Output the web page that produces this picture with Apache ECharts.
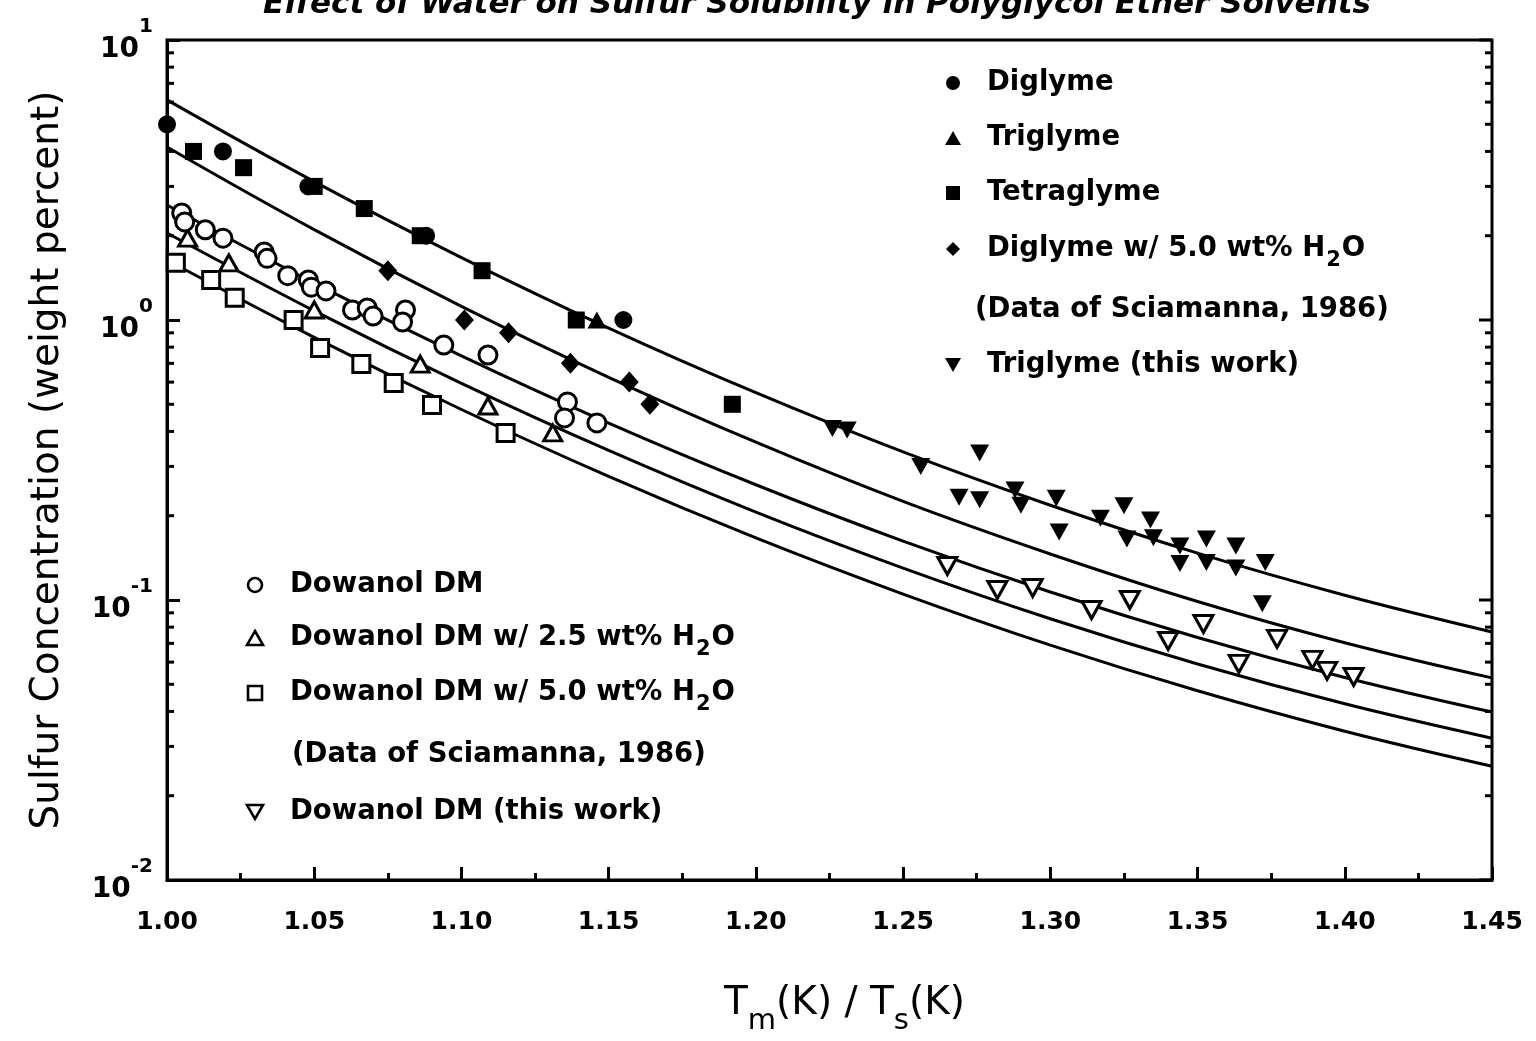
<!DOCTYPE html>
<html>
<head>
<meta charset="utf-8">
<title>Effect of Water on Sulfur Solubility in Polyglycol Ether Solvents</title>
<script src="https://cdn.jsdelivr.net/npm/echarts@6/dist/echarts.min.js"></script>
<style>
  html, body { margin: 0; padding: 0; background: #ffffff; }
  #chart { width: 1536px; height: 1041px; }
</style>
</head>
<body>
<div id="chart"></div>
<script>
// ---- fitted solubility curves, sampled every 0.05 in Tm/Ts ----
const curveX  = [1.00, 1.05, 1.10, 1.15, 1.20, 1.25, 1.30, 1.35, 1.40, 1.45];
const curve1  = [6.11, 3.12, 1.671, 0.936, 0.550, 0.338, 0.218, 0.147, 0.104, 0.0769];
const curve2  = [4.148, 2.102, 1.118, 0.624, 0.366, 0.225, 0.146, 0.0988, 0.0704, 0.0527];
const curve3  = [2.574, 1.354, 0.745, 0.4285, 0.258, 0.1623, 0.1068, 0.0735, 0.0529, 0.0398];
const curve4  = [2.045, 1.078, 0.594, 0.342, 0.206, 0.130, 0.0857, 0.0591, 0.0426, 0.0321];
const curve5  = [1.638, 0.867, 0.479, 0.2763, 0.1666, 0.105, 0.069, 0.0474, 0.034, 0.0255];

// ---- measured points: [Tm/Ts, sulfur wt%] ----
const diglyme = [[1.000, 5.0], [1.019, 4.0], [1.048, 3.0], [1.088, 2.0], [1.155, 1.0]];
const triglyme = [[1.146, 1.0]];
const tetraglyme = [[1.009, 4.0], [1.026, 3.5], [1.050, 3.0], [1.067, 2.5], [1.086, 2.0],
                    [1.107, 1.5], [1.139, 1.0], [1.192, 0.5]];
const diglymeWater = [[1.075, 1.5], [1.101, 1.0], [1.116, 0.9], [1.137, 0.7], [1.157, 0.6], [1.164, 0.5]];
const triglymeThisWork = [
  [1.226, 0.41], [1.231, 0.405], [1.256, 0.30], [1.269, 0.233], [1.276, 0.335], [1.276, 0.228],
  [1.288, 0.247], [1.290, 0.218], [1.302, 0.231], [1.303, 0.175], [1.317, 0.196], [1.325, 0.217],
  [1.326, 0.165], [1.334, 0.193], [1.335, 0.167], [1.344, 0.156], [1.344, 0.135], [1.353, 0.165],
  [1.353, 0.136], [1.363, 0.156], [1.363, 0.130], [1.373, 0.136], [1.372, 0.097]
];
const dowanol = [
  [1.005, 2.41], [1.006, 2.24], [1.013, 2.10], [1.019, 1.96], [1.033, 1.75], [1.034, 1.66],
  [1.041, 1.44], [1.048, 1.39], [1.049, 1.31], [1.054, 1.27], [1.063, 1.086], [1.068, 1.104],
  [1.070, 1.033], [1.081, 1.086], [1.080, 0.984], [1.094, 0.814], [1.109, 0.75], [1.136, 0.51],
  [1.135, 0.447], [1.146, 0.429]
];
const dowanolWater25 = [[1.007, 1.96], [1.021, 1.60], [1.050, 1.086], [1.086, 0.696], [1.109, 0.493], [1.131, 0.395]];
const dowanolWater50 = [[1.003, 1.60], [1.015, 1.39], [1.023, 1.20], [1.043, 1.0], [1.052, 0.794],
                        [1.066, 0.696], [1.077, 0.596], [1.090, 0.497], [1.115, 0.395]];
const dowanolThisWork = [
  [1.265, 0.1323], [1.282, 0.1086], [1.294, 0.1104], [1.314, 0.0921], [1.327, 0.100], [1.340, 0.0714],
  [1.352, 0.0821], [1.364, 0.0591], [1.377, 0.0726], [1.389, 0.0611], [1.394, 0.0558], [1.403, 0.0531]
];

// ---- axes ----
const xMin = 1.00, xMax = 1.45, xStep = 0.05;
const yMin = 0.01, yMax = 10;
const yDecades = [0.01, 0.1, 1, 10];
// intermediate log ticks (2..9 in every decade)
const yMinorTicks = [];
[0.01, 0.1, 1].forEach(function (d) {
  for (let k = 2; k <= 9; k++) yMinorTicks.push(+(d * k).toPrecision(3));
});

// ---- key entries ----
const keyUpper = [
  { text: 'Diglyme', mark: 'circle', solid: true },
  { text: 'Triglyme', mark: 'up', solid: true },
  { text: 'Tetraglyme', mark: 'square', solid: true },
  { text: 'Diglyme w/ 5.0 wt% H2O', mark: 'diamond', solid: true },
  { text: '(Data of Sciamanna, 1986)', mark: null },
  { text: 'Triglyme (this work)', mark: 'down', solid: true }
];
const keyLower = [
  { text: 'Dowanol DM', mark: 'circle', solid: false },
  { text: 'Dowanol DM w/ 2.5 wt% H2O', mark: 'up', solid: false },
  { text: 'Dowanol DM w/ 5.0 wt% H2O', mark: 'square', solid: false },
  { text: '(Data of Sciamanna, 1986)', mark: null },
  { text: 'Dowanol DM (this work)', mark: 'down', solid: false }
];

const FONT = '"DejaVu Sans", "Liberation Sans", sans-serif';
const INK = '#000000';
const KEY_FONT = 'bold 27.5px ' + FONT;
const SUB_FONT = 'bold 21px ' + FONT;

const measureCtx = document.createElement('canvas').getContext('2d');
function textWidth(str, font) {
  measureCtx.font = font;
  return measureCtx.measureText(str).width;
}

function keyMark(kind, solid, cx, cy) {
  const style = solid ? { fill: INK, stroke: INK, lineWidth: 0 }
                      : { fill: '#ffffff', stroke: INK, lineWidth: 2.6 };
  const h = 7;
  let el;
  if (kind === 'circle') el = { type: 'circle', shape: { cx: cx, cy: cy, r: h } };
  else if (kind === 'square') el = { type: 'rect', shape: { x: cx - h, y: cy - h, width: 2 * h, height: 2 * h } };
  else if (kind === 'up') el = { type: 'polygon', shape: { points: [[cx, cy - h], [cx + h + 1, cy + h], [cx - h - 1, cy + h]] } };
  else if (kind === 'down') el = { type: 'polygon', shape: { points: [[cx - h - 1, cy - h], [cx + h + 1, cy - h], [cx, cy + h]] } };
  else el = { type: 'polygon', shape: { points: [[cx, cy - h], [cx + h, cy], [cx, cy + h], [cx - h, cy]] } };
  el.style = style;
  el.silent = true;
  el.z = 10;
  return el;
}

function keyText(str, x, y) {
  const out = [];
  const i = str.indexOf('H2O');
  const base = { fill: INK, verticalAlign: 'middle', align: 'left' };
  if (i < 0) {
    out.push({ type: 'text', x: x, y: y, silent: true, z: 10,
               style: Object.assign({ text: str, font: KEY_FONT }, base) });
    return out;
  }
  const head = str.slice(0, i) + 'H';
  const w1 = textWidth(head, KEY_FONT);
  const w2 = textWidth('2', SUB_FONT);
  out.push({ type: 'text', x: x, y: y, silent: true, z: 10,
             style: Object.assign({ text: head, font: KEY_FONT }, base) });
  out.push({ type: 'text', x: x + w1 + 1, y: y + 12, silent: true, z: 10,
             style: Object.assign({ text: '2', font: SUB_FONT }, base) });
  out.push({ type: 'text', x: x + w1 + w2 + 2, y: y, silent: true, z: 10,
             style: Object.assign({ text: 'O', font: KEY_FONT }, base) });
  return out;
}

function buildKey(rows, markX, textX, noteX, rowY) {
  let els = [];
  rows.forEach(function (r, k) {
    if (r.mark) els.push(keyMark(r.mark, r.solid, markX, rowY[k]));
    els = els.concat(keyText(r.text, r.mark ? textX : noteX, rowY[k]));
  });
  return els;
}

const curves = [curve1, curve2, curve3, curve4, curve5];

const filled = { color: INK, borderWidth: 0, opacity: 1 };
const hollow = { color: '#ffffff', borderColor: INK, borderWidth: 3, opacity: 1 };

function scatter(name, data, symbol, size, style, rotate) {
  return {
    name: name, type: 'scatter', data: data,
    symbol: symbol, symbolSize: size, symbolRotate: rotate || 0,
    itemStyle: style, z: 5, silent: true
  };
}

const series = [];
curves.forEach(function (c, i) {
  series.push({
    name: 'fit ' + (i + 1), type: 'line', smooth: 0.4, symbol: 'none', silent: true,
    data: curveX.map(function (x, j) { return [x, c[j]]; }),
    lineStyle: { color: INK, width: 3 }, z: 3
  });
});

// log ticks: minor ones on the left, minor and major mirrored on the right
function tickSeries(name, values, atX, dir, len) {
  return {
    name: name, type: 'custom', silent: true, z: 4,
    data: values.map(function (v) { return [atX, v]; }),
    renderItem: function (params, api) {
      const p = api.coord([api.value(0), api.value(1)]);
      return {
        type: 'line',
        shape: { x1: p[0], y1: p[1], x2: p[0] + dir * len, y2: p[1] },
        style: { stroke: INK, lineWidth: 3 }
      };
    }
  };
}
series.push(tickSeries('left minor', yMinorTicks, xMin, 1, 7));
series.push(tickSeries('right minor', yMinorTicks, xMax, -1, 7));
series.push(tickSeries('right major', yDecades, xMax, -1, 13));

series.push(
  scatter('Dowanol DM w/ 5.0 wt% H2O', dowanolWater50, 'rect', 17, hollow),
  scatter('Dowanol DM w/ 2.5 wt% H2O', dowanolWater25, 'triangle', [18, 16], hollow),
  scatter('Dowanol DM', dowanol, 'circle', 18, hollow),
  scatter('Dowanol DM (this work)', dowanolThisWork, 'triangle', [19, 17], hollow, 180),
  scatter('Diglyme w/ 5.0 wt% H2O', diglymeWater, 'diamond', [19, 21], filled),
  scatter('Tetraglyme', tetraglyme, 'rect', 17, filled),
  scatter('Diglyme', diglyme, 'circle', 18, filled),
  scatter('Triglyme', triglyme, 'triangle', [19, 17], filled),
  scatter('Triglyme (this work)', triglymeThisWork, 'triangle', [19, 17], filled, 180)
);

const graphics = [{
  type: 'text', x: 817, y: -11, silent: true,
  style: {
    text: 'Effect of Water on Sulfur Solubility in Polyglycol Ether Solvents',
    font: 'italic bold 31px ' + FONT, fill: INK, align: 'center', verticalAlign: 'top'
  }
}].concat(
  buildKey(keyUpper, 953, 987, 975, [83, 138, 193, 249, 310, 365]),
  buildKey(keyLower, 255, 290, 292, [585, 638, 693, 755, 812])
);

const option = {
  animation: false,
  backgroundColor: '#ffffff',
  grid: {
    left: 167, right: 44, top: 40, bottom: 161,
    show: true, borderColor: INK, borderWidth: 3, backgroundColor: 'transparent'
  },
  graphic: graphics,
  xAxis: {
    type: 'value', min: xMin, max: xMax, interval: xStep,
    axisLine: { show: true, lineStyle: { color: INK, width: 3 } },
    axisTick: { show: true, inside: true, length: 13, lineStyle: { color: INK, width: 3 } },
    minorTick: { show: true, splitNumber: 2, length: 7, lineStyle: { color: INK, width: 3 } },
    splitLine: { show: false },
    axisLabel: {
      margin: 30, color: INK, fontFamily: FONT, fontWeight: 'bold', fontSize: 25,
      formatter: function (v) { return v.toFixed(2); }
    },
    name: '{t|T}{s|m}{t|(K) / T}{s|s}{t|(K)}',
    nameLocation: 'middle', nameGap: 96,
    nameTextStyle: {
      padding: [0, 0, 0, 30],
      rich: {
        t: { fontFamily: FONT, fontSize: 39, color: INK, lineHeight: 56 },
        s: { fontFamily: FONT, fontSize: 29, color: INK, lineHeight: 30, padding: [34, 0, 0, 0] }
      }
    }
  },
  yAxis: {
    type: 'log', logBase: 10, min: yMin, max: yMax,
    axisLine: { show: true, lineStyle: { color: INK, width: 3 } },
    axisTick: { show: true, inside: true, length: 13, lineStyle: { color: INK, width: 3 } },
    splitLine: { show: false },
    axisLabel: {
      margin: 14,
      formatter: function (v) {
        const e = Math.round(Math.log10(v));
        return '{b|10}{p|' + (e < 0 ? '-' + (-e) : e) + '}';
      },
      rich: {
        b: { fontFamily: FONT, fontWeight: 'bold', fontSize: 28, color: INK, lineHeight: 30, padding: [20, 0, 0, 0] },
        p: { fontFamily: FONT, fontWeight: 'bold', fontSize: 20, color: INK, lineHeight: 22, padding: [0, 0, 26, 0] }
      }
    },
    name: 'Sulfur Concentration (weight percent)',
    nameLocation: 'middle', nameGap: 100, nameRotate: 90,
    nameTextStyle: { fontFamily: FONT, fontSize: 39, color: INK }
  },
  series: series
};

const chart = echarts.init(document.getElementById('chart'), null, { renderer: 'canvas' });
chart.setOption(option);
</script>
</body>
</html>
